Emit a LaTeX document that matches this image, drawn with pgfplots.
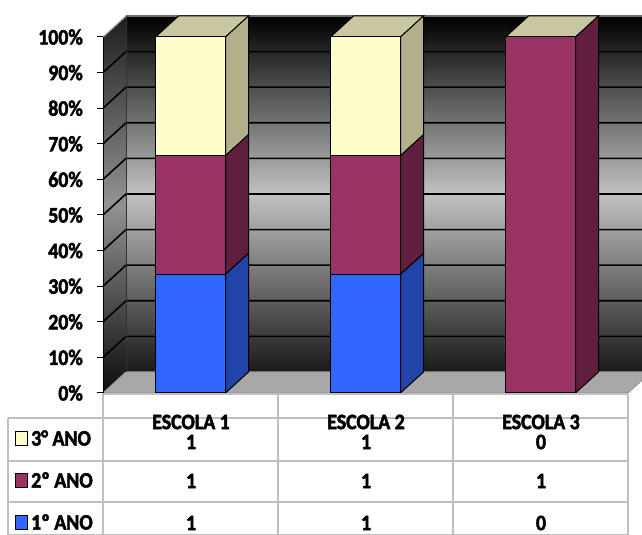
\documentclass[border=0pt]{standalone}
\usepackage{pgfplots}
\pgfplotsset{compat=1.18}
\usepackage{fontspec}
\setmainfont{Carlito}[BoldFeatures={FakeBold=2.2}, FakeStretch=0.9]
\definecolor{c1}{HTML}{3366FF}
\definecolor{c1s}{HTML}{2243A8}
\definecolor{c2}{HTML}{993366}
\definecolor{c2s}{HTML}{611F40}
\definecolor{c3}{HTML}{FFFFCC}
\definecolor{c3s}{HTML}{B2B08A}
\definecolor{ctop}{HTML}{C9C6A2}
\definecolor{tgrid}{HTML}{BFBFBF}
\newcommand{\lbl}{\bfseries\fontsize{22}{26}\selectfont}
\newcommand{\side}[4]{\filldraw[fill=#4, draw=black, line width=1pt] (axis cs:#1,#2) -- ([shift={(23pt,21pt)}]axis cs:#1,#2) -- ([shift={(23pt,21pt)}]axis cs:#1,#3) -- (axis cs:#1,#3) -- cycle;}
\newcommand{\topf}[2]{\filldraw[fill=ctop, draw=black, line width=1pt] (axis cs:#1,#2) -- ([shift={(23pt,21pt)}]axis cs:#1,#2) -- ([shift={(23pt,21pt)}]axis cs:{#1+0.4},#2) -- (axis cs:{#1+0.4},#2) -- cycle;}
\begin{document}
\begin{tikzpicture}[x=1pt,y=1pt]
\useasboundingbox (0,0) rectangle (642,535);
\clip (0,0) rectangle (642,535);
% ---- walls and floor (decoration, absolute coordinates: plot area 103..628 x 142..498)
\shade[top color=black, bottom color=black!90, middle color=gray!48]
  (126,163) rectangle (660,519);
\shade[top color=black!88, bottom color=black!95, middle color=gray!85]
  (103,142) -- (103,498) -- (126,519) -- (126,163) -- cycle;
\filldraw[fill=gray!68, draw=gray!80, line width=1pt]
  (103,142) -- (628,142) -- (651,163) -- (126,163) -- cycle;
\foreach \k in {1,...,9}{
  \pgfmathsetmacro{\yy}{142+35.6*\k}
  \draw[black, line width=1.6pt] (103,\yy) -- (126,\yy+21) -- (660,\yy+21);
}
\draw[gray!70, line width=1.2pt] (103,498) -- (126,519) -- (660,519);
\draw[black!80, line width=1pt] (126,163) -- (126,519);
\begin{axis}[
  at={(103pt,142pt)}, anchor=south west,
  scale only axis, width=525pt, height=356pt,
  xmin=-0.5, xmax=2.5, ymin=0, ymax=100,
  clip=false,
  ybar stacked, bar width=70pt,
  axis x line=none, axis y line*=left,
  ytick={0,10,...,100},
  yticklabel={\pgfmathprintnumber{\tick}\%},
  /pgf/number format/assume math mode=true,
  yticklabel style={font=\lbl, anchor=east, inner sep=0pt, xshift=-14pt},
  tick align=outside, major tick length=6pt,
  y axis line style={black, line width=1pt},
  ytick style={black, line width=1pt},
]
% bars (percent of each school)
\addplot[fill=c1, draw=black, line width=1pt] coordinates {(0,33.33) (1,33.33) (2,0)};
\addplot[fill=c2, draw=black, line width=1pt] coordinates {(0,33.33) (1,33.33) (2,100)};
\addplot[fill=c3, draw=black, line width=1pt] coordinates {(0,33.34) (1,33.34) (2,0)};
% 3D faces
\side{0.2}{0}{33.33}{c1s}
\side{0.2}{33.33}{66.66}{c2s}
\side{0.2}{66.66}{100}{c3s}
\topf{-0.2}{100}
\side{1.2}{0}{33.33}{c1s}
\side{1.2}{33.33}{66.66}{c2s}
\side{1.2}{66.66}{100}{c3s}
\topf{0.8}{100}
\side{2.2}{0}{100}{c2s}
\topf{1.8}{100}
\end{axis}
% data table
\begin{scope}[tgrid, line width=1.5pt]
\draw (103,141) -- (628,141);
\draw (8,117) -- (628,117);
\draw (8,74) -- (628,74);
\draw (8,33) -- (628,33);
\draw (8,0.5) -- (628,0.5);
\draw (8,117) -- (8,0);
\foreach \x in {103,278,453,628} \draw (\x,141) -- (\x,0);
\end{scope}
\foreach \x/\a/\b/\c in {191/1/1/1, 366/1/1/1, 541/0/1/0}{
  \node[font=\lbl] at (\x,93) {\a};
  \node[font=\lbl] at (\x,54) {\b};
  \node[font=\lbl] at (\x,12) {\c};
}
\node[font=\lbl] at (191,113) {ESCOLA 1};
\node[font=\lbl] at (366,113) {ESCOLA 2};
\node[font=\lbl] at (541,113) {ESCOLA 3};
\filldraw[fill=c3, draw=black, line width=0.8pt] (15,90) rectangle (27,104);
\filldraw[fill=c2, draw=black, line width=0.8pt] (15,48) rectangle (27,62);
\filldraw[fill=c1, draw=black, line width=0.8pt] (15,6) rectangle (27,20);
\node[font=\lbl, anchor=west, inner sep=0pt] at (31,97) {3° ANO};
\node[font=\lbl, anchor=west, inner sep=0pt] at (31,55) {2º ANO};
\node[font=\lbl, anchor=west, inner sep=0pt] at (31,13) {1º ANO};
\end{tikzpicture}
\end{document}
